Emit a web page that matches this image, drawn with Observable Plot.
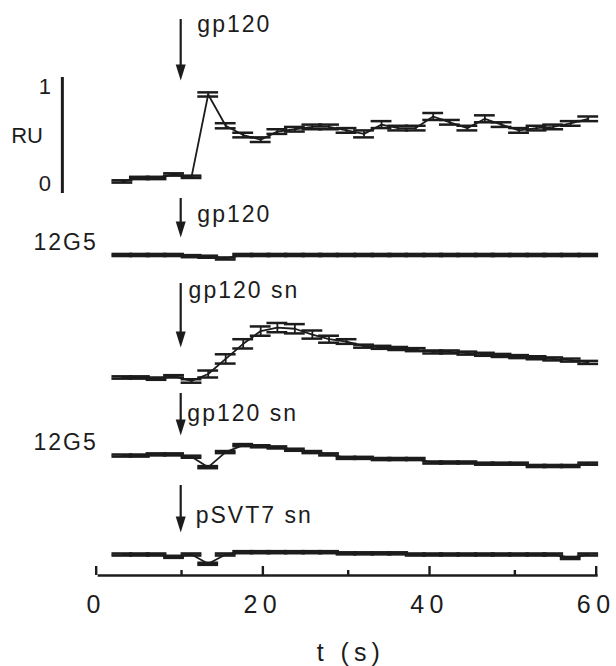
<!DOCTYPE html>
<html><head><meta charset="utf-8">
<script src="https://cdn.jsdelivr.net/npm/d3@7"></script>
<script src="https://cdn.jsdelivr.net/npm/@observablehq/plot@0.6"></script>
<style>
html,body{margin:0;padding:0;background:#fff;}
#chart svg{display:block;}
g[aria-label="x-axis tick label"] text{letter-spacing:5.5px;}
</style></head><body><div id="chart"></div>
<script>
// sampling times (s)
const times = [2.9, 5.0, 7.0, 9.1, 11.2, 13.2, 15.3, 17.4, 19.5, 21.5, 23.6, 25.7, 27.7, 29.8, 31.9, 34.0, 36.0, 38.1, 40.2, 42.2, 44.3, 46.4, 48.4, 50.5, 52.6, 54.6, 56.7, 58.8];

// responses (RU), relative to each trace's own baseline
const gp120      = [0.00, 0.03, 0.03, 0.06, 0.04, 0.75, 0.48, 0.40, 0.36, 0.43, 0.45, 0.47, 0.47, 0.44, 0.41, 0.49, 0.46, 0.46, 0.56, 0.51, 0.46, 0.54, 0.49, 0.44, 0.46, 0.47, 0.50, 0.54];
const gp120Err   = [0.01, 0.01, 0.01, 0.01, 0.01, 0.018, 0.022, 0.02, 0.02, 0.02, 0.02, 0.02, 0.02, 0.02, 0.03, 0.03, 0.02, 0.02, 0.03, 0.02, 0.02, 0.03, 0.02, 0.02, 0.02, 0.02, 0.02, 0.02];
const g12gp120   = [0, 0, 0, 0, -0.01, -0.015, -0.03, 0, 0, 0, 0, 0, 0, 0, 0, 0, 0, 0, 0, 0, 0, 0, 0, 0, 0, 0, 0, 0];
const gp120sn    = [0.00, 0.00, -0.01, 0.01, -0.03, 0.03, 0.16, 0.29, 0.40, 0.43, 0.42, 0.37, 0.33, 0.31, 0.27, 0.26, 0.25, 0.24, 0.22, 0.22, 0.21, 0.20, 0.19, 0.18, 0.17, 0.16, 0.15, 0.13];
const gp120snErr = [0.01, 0.01, 0.01, 0.01, 0.015, 0.03, 0.04, 0.04, 0.04, 0.04, 0.04, 0.035, 0.03, 0.02, 0.013, 0.013, 0.013, 0.013, 0.013, 0.013, 0.013, 0.013, 0.013, 0.013, 0.013, 0.013, 0.013, 0.013];
const g12gp120sn = [0, 0, 0.01, 0.01, -0.01, -0.10, 0.03, 0.09, 0.08, 0.07, 0.05, 0.03, 0.01, -0.02, -0.02, -0.03, -0.03, -0.03, -0.06, -0.06, -0.06, -0.07, -0.07, -0.07, -0.09, -0.09, -0.09, -0.07];
const pSVT7sn    = [0, 0, 0, -0.02, 0.00, -0.08, 0, 0.02, 0.02, 0.02, 0.02, 0.02, 0.02, 0.01, 0.01, 0.01, 0.01, 0, 0, 0, 0, 0, 0, 0, 0, 0, -0.03, 0];
const flatErr = 0.009;

// text
const injections = ["gp120", "gp120", "gp120 sn", "gp120 sn", "pSVT7 sn"];
const cellLabels = ["", "12G5", "", "12G5", ""];
const majorTicks = [0, 20, 40, 60];
const minorTicks = [10, 30, 50];
const xTitle = "t (s)";
const scaleLabels = ["1", "RU", "0"];

// layout (stacking of the traces, annotation placement)
const injectTime = 9.9;
const baselines = [3.397, 2.763, 1.707, 1.034, 0.181];
const arrowTop  = [4.793, 3.250, 2.517, 1.569, 0.776];
const arrowTip  = [4.267, 2.914, 1.966, 1.207, 0.371];
const labelT    = [11.9, 11.9, 10.85, 10.7, 11.7];
const labelY    = [4.746, 3.112, 2.453, 1.397, 0.517];
const cellT = -7.76;
const cellY = [0, 2.866, 0, 1.142, 0];
const scaleBar = {t: -4.3, y1: 3.293, y2: 4.293};
const scaleText = [{t: -6.4, y: 4.211}, {t: -8.54, y: 3.793}, {t: -6.4, y: 3.375}];

const series = [
  {values: gp120, err: gp120Err},
  {values: g12gp120, err: null},
  {values: gp120sn, err: gp120snErr},
  {values: g12gp120sn, err: null},
  {values: pSVT7sn, err: null}
];

const rows = [];
series.forEach((s, i) => s.values.forEach((v, j) => rows.push({
  trace: i, t: times[j], v, err: s.err ? s.err[j] : flatErr, y: baselines[i] + v
})));

const annos = injections.map((name, i) => ({
  name, cell: cellLabels[i], t: injectTime, top: arrowTop[i], tip: arrowTip[i],
  lt: labelT[i], ly: labelY[i], cy: cellY[i]
}));

const ink = "#1c1c1c";
const capHalf = 1.25;
const arrowHead = {
  draw(ctx) { ctx.moveTo(0, 0); ctx.lineTo(-5, -16); ctx.lineTo(5, -16); ctx.closePath(); }
};

const chart = Plot.plot({
  width: 616, height: 666,
  marginLeft: 97.7, marginRight: 18.3, marginTop: 0, marginBottom: 91,
  x: {domain: [0, 60]},
  y: {domain: [0, 575 / 116], axis: null},
  style: {fontFamily: "'Liberation Sans', Arial, Helvetica, sans-serif", color: ink, background: "#fff"},
  marks: [
    // traces
    Plot.line(rows, {x: "t", y: "y", z: "trace", stroke: ink, strokeWidth: 1.8}),
    Plot.ruleX(rows, {x: "t", y1: d => d.y - d.err, y2: d => d.y + d.err, stroke: ink, strokeWidth: 1.8}),
    Plot.ruleY(rows, {y: d => d.y + d.err, x1: d => d.t - capHalf, x2: d => d.t + capHalf, stroke: ink, strokeWidth: 2.5}),
    Plot.ruleY(rows, {y: d => d.y - d.err, x1: d => d.t - capHalf, x2: d => d.t + capHalf, stroke: ink, strokeWidth: 2.5}),
    // injection arrows
    Plot.ruleX(annos, {x: "t", y1: "top", y2: "tip", stroke: ink, strokeWidth: 2.2, insetBottom: 10}),
    Plot.dot(annos, {x: "t", y: "tip", symbol: arrowHead, fill: ink, stroke: null}),
    Plot.text(annos, {x: "lt", y: "ly", text: "name", textAnchor: "start", lineAnchor: "middle", fontSize: 23, fill: ink}),
    Plot.text(annos.filter(d => d.cell), {x: () => cellT, y: "cy", text: "cell", textAnchor: "start", lineAnchor: "middle", fontSize: 23, fill: ink}),
    // RU scale bar
    Plot.ruleX([scaleBar], {x: "t", y1: "y1", y2: "y2", stroke: ink, strokeWidth: 3}),
    Plot.text(scaleText, {x: "t", y: "y", text: (d, i) => scaleLabels[i], textAnchor: "middle", lineAnchor: "middle", fontSize: 22, fill: ink}),
    // time axis
    Plot.ruleY([0], {stroke: ink, strokeWidth: 2.6}),
    Plot.axisX({ticks: majorTicks, tickSize: -9, tickPadding: 29, strokeWidth: 2.4, fontSize: 25, dx: -2, stroke: ink, fill: ink}),
    Plot.axisX({ticks: minorTicks, tickSize: -5, tickFormat: () => "", strokeWidth: 2.4, stroke: ink}),
    Plot.text([xTitle], {x: () => 30, frameAnchor: "bottom", dy: 85, dx: 2.5, lineAnchor: "bottom", textAnchor: "middle", fontSize: 25, fill: ink})
  ]
});

// wide lettering as in the scanned figure
d3.select(chart).selectAll("text").each(function () {
  const s = this.textContent;
  if (s === xTitle) this.style.letterSpacing = "5px";
  else if (injections.includes(s) || (s && cellLabels.includes(s))) this.style.letterSpacing = "2px";
});
document.getElementById("chart").appendChild(chart);
</script>
</body></html>
